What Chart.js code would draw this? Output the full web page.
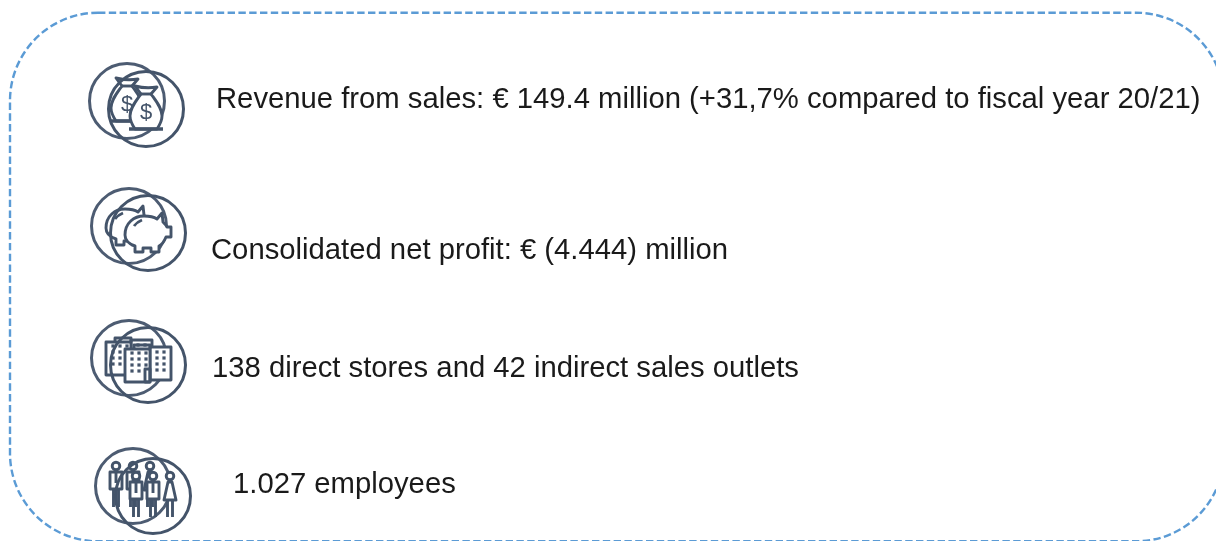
<!DOCTYPE html>
<html>
<head>
<meta charset="utf-8">
<style>body{margin:0;background:#fff}canvas{display:block}</style>
<script src="https://cdn.jsdelivr.net/npm/chart.js@4"></script>
</head>
<body>
<canvas id="mychart" width="1216" height="541"></canvas>
<script>
// facts
const facts = [
  'Revenue from sales: € 149.4 million (+31,7% compared to fiscal year 20/21)',
  'Consolidated net profit: € (4.444) million',
  '138 direct stores and 42 indirect sales outlets',
  '1.027 employees'
];
const icons = ['bags', 'pig', 'buildings', 'people'];
const textX = [216, 211, 212, 233];
const textY = [100, 251, 369, 485];
const backRingX = [127, 129, 129, 133];
const backRingY = [101, 226, 358, 486];
const frontRingX = [146, 148, 148, 153];
const frontRingY = [109, 233, 365, 496];

const ink = '#44546a';

function bags(c) {
  c.beginPath();
  c.moveTo(-5, -15);
  c.bezierCurveTo(-10, -8, -16, -1, -16, 7);
  c.bezierCurveTo(-16, 12, -13, 17, -11, 20);
  c.lineTo(11, 20);
  c.bezierCurveTo(13, 17, 16, 12, 16, 7);
  c.bezierCurveTo(16, -1, 10, -8, 5, -15);
  c.lineTo(11, -22);
  c.quadraticCurveTo(0, -20, -11, -23);
  c.closePath();
  c.fill(); c.stroke();
  c.beginPath(); c.moveTo(-5, -15); c.lineTo(5, -15); c.stroke();
  c.beginPath(); c.moveTo(-17, 20); c.lineTo(17, 20); c.lineWidth = 3.6; c.stroke(); c.lineWidth = 2.9;
  c.font = '22px "Liberation Sans"';
  c.fillStyle = ink; c.textAlign = 'center'; c.textBaseline = 'middle';
  c.fillText('$', 0, 4);
}

function pig(c) {
  c.beginPath();
  c.moveTo(-23, 2);
  c.bezierCurveTo(-23, -10, -14, -17, -4, -17);
  c.bezierCurveTo(2, -17, 6, -16, 9, -14);
  c.lineTo(14, -20); c.lineTo(15, -11);
  c.bezierCurveTo(17, -9, 18, -8, 19, -6);
  c.lineTo(23, -6); c.lineTo(23, 4); c.lineTo(18, 4);
  c.bezierCurveTo(16, 9, 13, 12, 11, 13);
  c.lineTo(11, 19); c.lineTo(3, 19); c.lineTo(3, 15);
  c.lineTo(-5, 15); c.lineTo(-5, 19); c.lineTo(-13, 19); c.lineTo(-13, 13);
  c.bezierCurveTo(-19, 11, -23, 8, -23, 2);
  c.closePath();
  c.fill(); c.stroke();
  c.beginPath(); c.moveTo(-14, -7); c.quadraticCurveTo(-11, -11, -6, -13); c.stroke();
}

function buildings(c) {
  c.beginPath(); c.rect(2, -18, 21, 33); c.fill(); c.stroke();
  c.beginPath(); c.rect(-23, -16, 25, 33); c.fill(); c.stroke();
  c.beginPath(); c.moveTo(-14, -16); c.lineTo(-14, -20); c.lineTo(2, -20); c.lineTo(2, -16); c.stroke();
  c.beginPath(); c.rect(-3, 4, 5, 13); c.stroke();
  c.fillStyle = ink;
  for (const x of [-16, -9, -2]) for (const y of [-12, -6, 0, 6]) {
    if (x === -2 && y === 6) continue;
    c.fillRect(x - 1.6, y - 1.6, 3.2, 3.2);
  }
  for (const x of [9, 16]) for (const y of [-13, -7, -1, 5]) c.fillRect(x - 1.6, y - 1.6, 3.2, 3.2);
}

function person(c, x, dress) {
  c.beginPath(); c.arc(x, -20, 3.8, 0, Math.PI * 2); c.fill(); c.stroke();
  c.beginPath();
  if (dress) {
    c.moveTo(x - 2, -14); c.lineTo(x + 2, -14); c.lineTo(x + 6, 4); c.lineTo(x - 6, 4);
  } else {
    c.rect(x - 6, -14, 12, 17);
  }
  c.closePath(); c.fill(); c.stroke();
  c.beginPath();
  c.moveTo(x - 2.5, dress ? 4 : 3); c.lineTo(x - 2.5, 21);
  c.moveTo(x + 2.5, dress ? 4 : 3); c.lineTo(x + 2.5, 21);
  c.stroke();
  if (!dress) { c.beginPath(); c.moveTo(x, -14); c.lineTo(x, -3); c.stroke(); }
}

function people(c) {
  person(c, -17, false);
  person(c, 0, false);
  person(c, 17, true);
}

const glyphs = { bags, pig, buildings, people };

function drawGlyph(c, name, x, y) {
  c.save();
  c.translate(x, y);
  c.strokeStyle = ink;
  c.fillStyle = '#fff';
  c.lineWidth = 2.9;
  c.lineJoin = 'round';
  glyphs[name](c);
  c.restore();
}

const sheet = {
  id: 'sheet',
  beforeDatasetsDraw(chart) {
    // dashed outline runs past the right and bottom of the page
    const c = chart.ctx, sx = chart.scales.x, sy = chart.scales.y;
    c.save();
    c.strokeStyle = '#5b9bd5';
    c.lineWidth = 2.4;
    c.setLineDash([7.4, 3.4]);
    c.beginPath();
    c.roundRect(sx.getPixelForValue(10), sy.getPixelForValue(12.7), 1214, 528.6, 88);
    c.stroke();
    c.restore();
  },
  beforeDatasetDraw(chart, args) {
    chart.ctx.save();
    if (args.index === 0) chart.ctx.filter = 'blur(0.4px)';
  },
  afterDatasetDraw(chart, args) {
    const meta = chart.getDatasetMeta(args.index);
    if (args.index < 2) {
      meta.data.forEach((pt, i) => drawGlyph(chart.ctx, icons[i], pt.x, pt.y));
    }
    chart.ctx.restore();
    if (args.index === 2) {
      const c = chart.ctx;
      c.save();
      c.fillStyle = '#1a1a1a';
      c.font = '29.25px "Liberation Sans"';
      c.textBaseline = 'middle';
      meta.data.forEach((pt, i) => c.fillText(facts[i], pt.x, pt.y));
      c.restore();
    }
  }
};

const points = (xs, ys) => xs.map((x, i) => ({ x: x, y: ys[i] }));

new Chart(document.getElementById('mychart'), {
  type: 'scatter',
  plugins: [sheet],
  data: {
    datasets: [
      { data: points(backRingX, backRingY), order: 3, pointRadius: 37.5, pointBorderWidth: 3,
        pointBorderColor: '#4d5c72', pointBackgroundColor: 'transparent' },
      { data: points(frontRingX, frontRingY), order: 2, pointRadius: 37.5, pointBorderWidth: 3,
        pointBorderColor: ink, pointBackgroundColor: 'transparent' },
      { data: points(textX, textY), order: 1, pointRadius: 0 }
    ]
  },
  options: {
    responsive: false,
    animation: false,
    events: [],
    layout: { padding: 0, autoPadding: false },
    plugins: { legend: { display: false }, tooltip: { enabled: false } },
    scales: {
      x: { display: false, min: 0, max: 1216 },
      y: { display: false, min: 0, max: 541, reverse: true }
    }
  }
});
</script>
</body>
</html>
